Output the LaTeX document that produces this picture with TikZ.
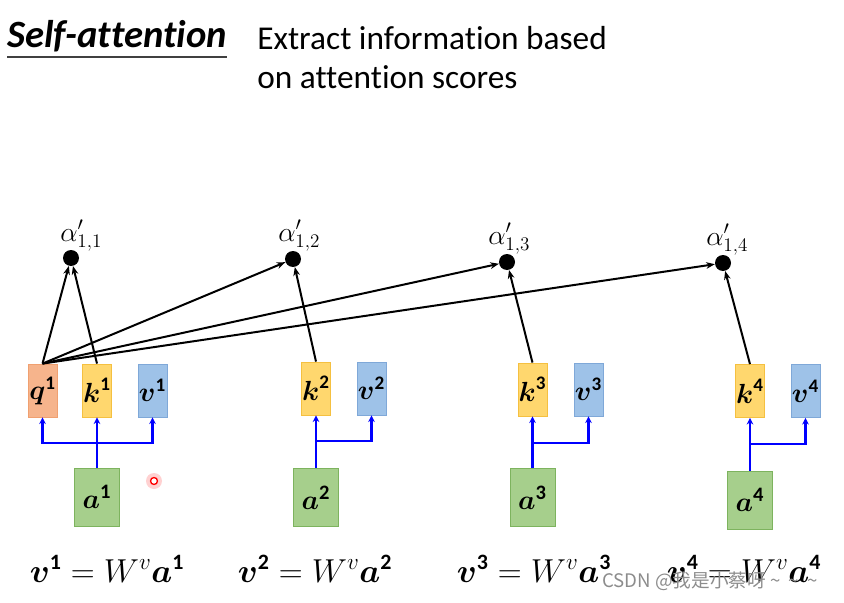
\documentclass[tikz,border=0pt]{standalone}
\usepackage{amsmath}
\usepackage{fontspec}
\setmainfont{Carlito}[Ligatures={NoCommon}]
\newfontfamily\cjkfont{Noto Sans CJK SC}
\usetikzlibrary{arrows.meta}
\definecolor{qfill}{HTML}{F6B48C}
\definecolor{qdraw}{HTML}{F0A070}
\definecolor{kfill}{HTML}{FFD76E}
\definecolor{kdraw}{HTML}{F5C040}
\definecolor{vfill}{HTML}{9EC2E8}
\definecolor{vdraw}{HTML}{7FA8D8}
\definecolor{afill}{HTML}{A6CF8C}
\definecolor{adraw}{HTML}{7DB35E}
\begin{document}
\begin{tikzpicture}[x=0.75pt,y=-0.75pt,
  box/.style={draw, line width=0.6pt, inner sep=0pt, minimum width=21.75pt, minimum height=39.75pt, font=\fontsize{20.5}{20.5}\selectfont},
  qbox/.style={box, fill=qfill, draw=qdraw},
  kbox/.style={box, fill=kfill, draw=kdraw},
  vbox/.style={box, fill=vfill, draw=vdraw},
  abox/.style={box, minimum width=33.75pt, minimum height=43.5pt, fill=afill, draw=adraw, font=\fontsize{22}{22}\selectfont},
  dot/.style={circle, fill=black, minimum size=12pt, inner sep=0pt},
  att/.style={line width=1.5pt, -{Stealth[length=6.5pt,width=5pt]}},
  proj/.style={blue, line width=1.9pt, -{Stealth[length=5pt,width=5pt]}},
  alab/.style={anchor=base west, inner sep=0pt, font=\fontsize{19.5}{19.5}\selectfont},
  eqn/.style={anchor=base, inner sep=0pt, font=\fontsize{23.5}{23.5}\selectfont},
]
\useasboundingbox (0,0) rectangle (844,603);

% title
\node[anchor=base west, inner sep=0pt, font=\fontsize{29}{29}\selectfont\bfseries\itshape] (title) at (7,47) {Self-attention};
\draw[black!75, line width=0.8pt] (title.south west |- 0,57) -- (title.south east |- 0,57);
\node[anchor=base west, inner sep=0pt, font=\fontsize{25}{25}\selectfont] (sub1) at (257,50) {Extract information based};
\node[anchor=base west, inner sep=0pt, font=\fontsize{25}{25}\selectfont] (sub2) at (257,88) {on attention scores};

% boxes
\node[qbox] (q1) at (42.5,390.5) {$\boldsymbol{q}^{\mathbf{1}}$};
\node[kbox] (k1) at (97,390.5) {$\boldsymbol{k}^{\mathbf{1}}$};
\node[vbox] (v1) at (152.5,390.5) {$\boldsymbol{v}^{\mathbf{1}}$};
\node[abox] (a1) at (97,497) {$\boldsymbol{a}^{\mathbf{1}}$};

\node[kbox] (k2) at (316,388.5) {$\boldsymbol{k}^{\mathbf{2}}$};
\node[vbox] (v2) at (371.5,388.5) {$\boldsymbol{v}^{\mathbf{2}}$};
\node[abox] (a2) at (316,497.5) {$\boldsymbol{a}^{\mathbf{2}}$};

\node[kbox] (k3) at (532.5,389.5) {$\boldsymbol{k}^{\mathbf{3}}$};
\node[vbox] (v3) at (588.5,389.5) {$\boldsymbol{v}^{\mathbf{3}}$};
\node[abox] (a3) at (532.5,497.5) {$\boldsymbol{a}^{\mathbf{3}}$};

\node[kbox] (k4) at (750,391) {$\boldsymbol{k}^{\mathbf{4}}$};
\node[vbox] (v4) at (805.5,391) {$\boldsymbol{v}^{\mathbf{4}}$};
\node[abox] (a4) at (750,500) {$\boldsymbol{a}^{\mathbf{4}}$};

% dots and labels
\node[dot] (d1) at (71,258) {};
\node[dot] (d2) at (293,259) {};
\node[dot] (d3) at (507,262) {};
\node[dot] (d4) at (723,263) {};
\node[alab] (l1) at (60,241) {$\alpha'_{1,1}$};
\node[alab] (l2) at (278,241) {$\alpha'_{1,2}$};
\node[alab] (l3) at (488,244) {$\alpha'_{1,3}$};
\node[alab] (l4) at (706,245) {$\alpha'_{1,4}$};

% attention arrows
\draw[att] (q1.north) -- (d1);
\draw[att] (k1.north) -- (d1);
\draw[att] (q1.north) -- (d2);
\draw[att] (q1.north) -- (d3);
\draw[att] (q1.north) -- (d4);
\draw[att] (k2.north) -- (d2);
\draw[att] (k3.north) -- (d3);
\draw[att] (k4.north) -- (d4);

% projections
\coordinate (b1) at (97,443);
\coordinate (b2) at (316,441);
\coordinate (b3) at (532.5,443);
\coordinate (b4) at (750,444);
\draw[proj] (a1.north) -- (k1.south);
\draw[proj] (b1) -| (q1.south);
\draw[proj] (b1) -| (v1.south);
\draw[proj] (a2.north) -- (k2.south);
\draw[proj] (b2) -| (v2.south);
\draw[proj] (a3.north) -- (k3.south);
\draw[proj] (b3) -| (v3.south);
\draw[proj] (a4.north) -- (k4.south);
\draw[proj] (b4) -| (v4.south);

% pointer mark
\fill[red!18] (154,481) circle[radius=6pt];
\draw[red, line width=1pt, fill=white] (154,481) circle[radius=2.6pt];

% equations
\node[eqn] (e1) at (107,582) {$\boldsymbol{v}^{\mathbf{1}}=W^{v}\boldsymbol{a}^{\mathbf{1}}$};
\node[eqn] (e2) at (315,582) {$\boldsymbol{v}^{\mathbf{2}}=W^{v}\boldsymbol{a}^{\mathbf{2}}$};
\node[eqn] (e3) at (534,582) {$\boldsymbol{v}^{\mathbf{3}}=W^{v}\boldsymbol{a}^{\mathbf{3}}$};
\node[eqn] (e4) at (744,582) {$\boldsymbol{v}^{\mathbf{4}}=W^{v}\boldsymbol{a}^{\mathbf{4}}$};

% watermark
\node[anchor=base west, inner sep=0pt, text=black!45, font=\cjkfont\fontsize{14}{14}\selectfont] (wm) at (602,587) {CSDN @我是小蔡呀\hspace{3pt}\textasciitilde\hspace{6pt}\textasciitilde\hspace{6pt}\textasciitilde};
\end{tikzpicture}
\end{document}
